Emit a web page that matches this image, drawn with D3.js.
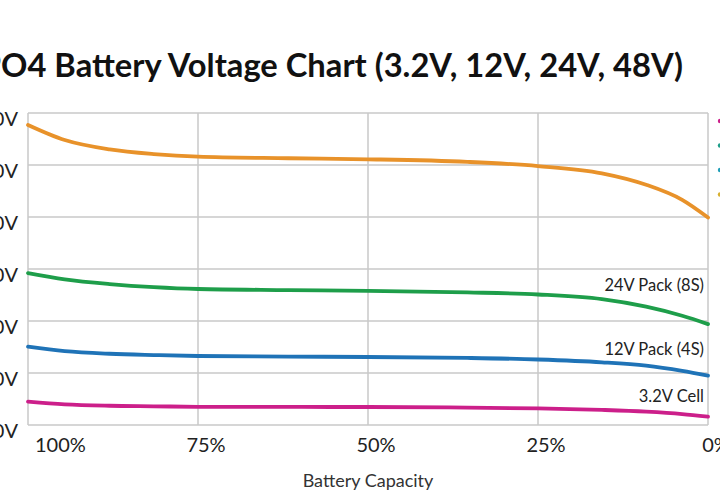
<!DOCTYPE html>
<html><head><meta charset="utf-8">
<script src="https://cdn.jsdelivr.net/npm/d3@7"></script>
<style>html,body{margin:0;padding:0;background:#fff;overflow:hidden}</style>
</head><body>
<svg id="c" width="720" height="500"></svg>
<script>
const title = "LiFePO4 Battery Voltage Chart (3.2V, 12V, 24V, 48V)";
const capacity = [100, 94.6, 88, 81.5, 75, 61.7, 50, 35.4, 25, 15.6, 9.1, 3.8, 0];
const v48 = [57.7, 54.8, 53.0, 52.1, 51.6, 51.3, 51.1, 50.6, 49.8, 48.4, 46.2, 43.3, 39.9];
const v24 = [29.2, 28.0, 27.1, 26.5, 26.15, 25.95, 25.8, 25.5, 25.1, 24.2, 22.75, 21.0, 19.4];
const v12 = [15.06, 14.2, 13.7, 13.45, 13.27, 13.15, 13.08, 12.9, 12.6, 12.06, 11.4, 10.4, 9.5];
const v3 = [4.5, 3.97, 3.7, 3.6, 3.5, 3.47, 3.46, 3.35, 3.2, 2.9, 2.56, 2.1, 1.6];
const seriesNames = ["48V Pack (16S)", "24V Pack (8S)", "12V Pack (4S)", "3.2V Cell"];
const seriesColors = ["#E8922A", "#1E9E4A", "#1F73B7", "#CC1F8A"];
const xTicks = [100, 75, 50, 25, 0];
const yTicks = [0, 10, 20, 30, 40, 50, 60];
const xTitle = "Battery Capacity";

const svg = d3.select("#c");
const mLeft = 28, mRight = 708, mTop = 113, mBottom = 425;
const x = d3.scaleLinear().domain([100, 0]).range([mLeft, mRight]);
const y = d3.scaleLinear().domain([0, 60]).range([mBottom, mTop]);
const font = "Lato, 'Open Sans', sans-serif";

// grid
svg.append("g").selectAll("line").data(yTicks).join("line")
  .attr("x1", mLeft).attr("x2", mRight)
  .attr("y1", d => y(d)).attr("y2", d => y(d))
  .attr("stroke", "#c9c9c9").attr("stroke-width", 1.5);
svg.append("g").selectAll("line").data(xTicks).join("line")
  .attr("x1", d => x(d)).attr("x2", d => x(d))
  .attr("y1", mTop).attr("y2", mBottom)
  .attr("stroke", "#c9c9c9").attr("stroke-width", 1.5);

// y labels
svg.append("g").selectAll("text").data(yTicks).join("text")
  .attr("x", 18).attr("y", d => y(d) + 13)
  .attr("text-anchor", "end")
  .attr("font-family", font).attr("font-size", 20).attr("fill", "#222")
  .text(d => d + "V");

// x labels
svg.append("g").selectAll("text").data(xTicks).join("text")
  .attr("x", (d, i) => i === 0 ? mLeft + 7 : x(d) + 8)
  .attr("y", 452)
  .attr("text-anchor", (d, i) => i === 0 ? "start" : "middle")
  .attr("font-family", font).attr("font-size", 20).attr("fill", "#222")
  .text(d => d + "%");

svg.append("text").attr("x", (mLeft + mRight) / 2).attr("y", 487)
  .attr("text-anchor", "middle").attr("font-family", font)
  .attr("font-size", 18).attr("fill", "#333").text(xTitle);

// lines
const all = [v48, v24, v12, v3];
const line = d3.line().x((d, i) => x(capacity[i])).y(d => y(d)).curve(d3.curveMonotoneX);
svg.append("g").selectAll("path").data(all).join("path")
  .attr("d", d => line(d)).attr("fill", "none")
  .attr("stroke", (d, i) => seriesColors[i]).attr("stroke-width", 3.8)
  .attr("stroke-linecap", "round");

// end labels
const lblY = [null, 291, 355, 402];
svg.append("g").selectAll("text").data([1, 2, 3]).join("text")
  .attr("x", 704).attr("y", d => lblY[d])
  .attr("text-anchor", "end").attr("font-family", font)
  .attr("font-size", 16.5).attr("fill", "#222")
  .text(d => seriesNames[d]);

// legend markers (legend text lies beyond the visible area)
const legColors = ["#CC1F8A", "#1E9E8A", "#1F9EB7", "#D8B030"];
svg.append("g").selectAll("circle").data(legColors).join("circle")
  .attr("cx", 720).attr("cy", (d, i) => 121 + i * 24.5).attr("r", 2.2).attr("fill", d => d);

// title
svg.append("text").attr("x", 683).attr("y", 77)
  .attr("text-anchor", "end").attr("font-family", font)
  .attr("font-weight", "bold").attr("font-size", 32.7).attr("fill", "#111")
  .text(title);
</script>
</body></html>
